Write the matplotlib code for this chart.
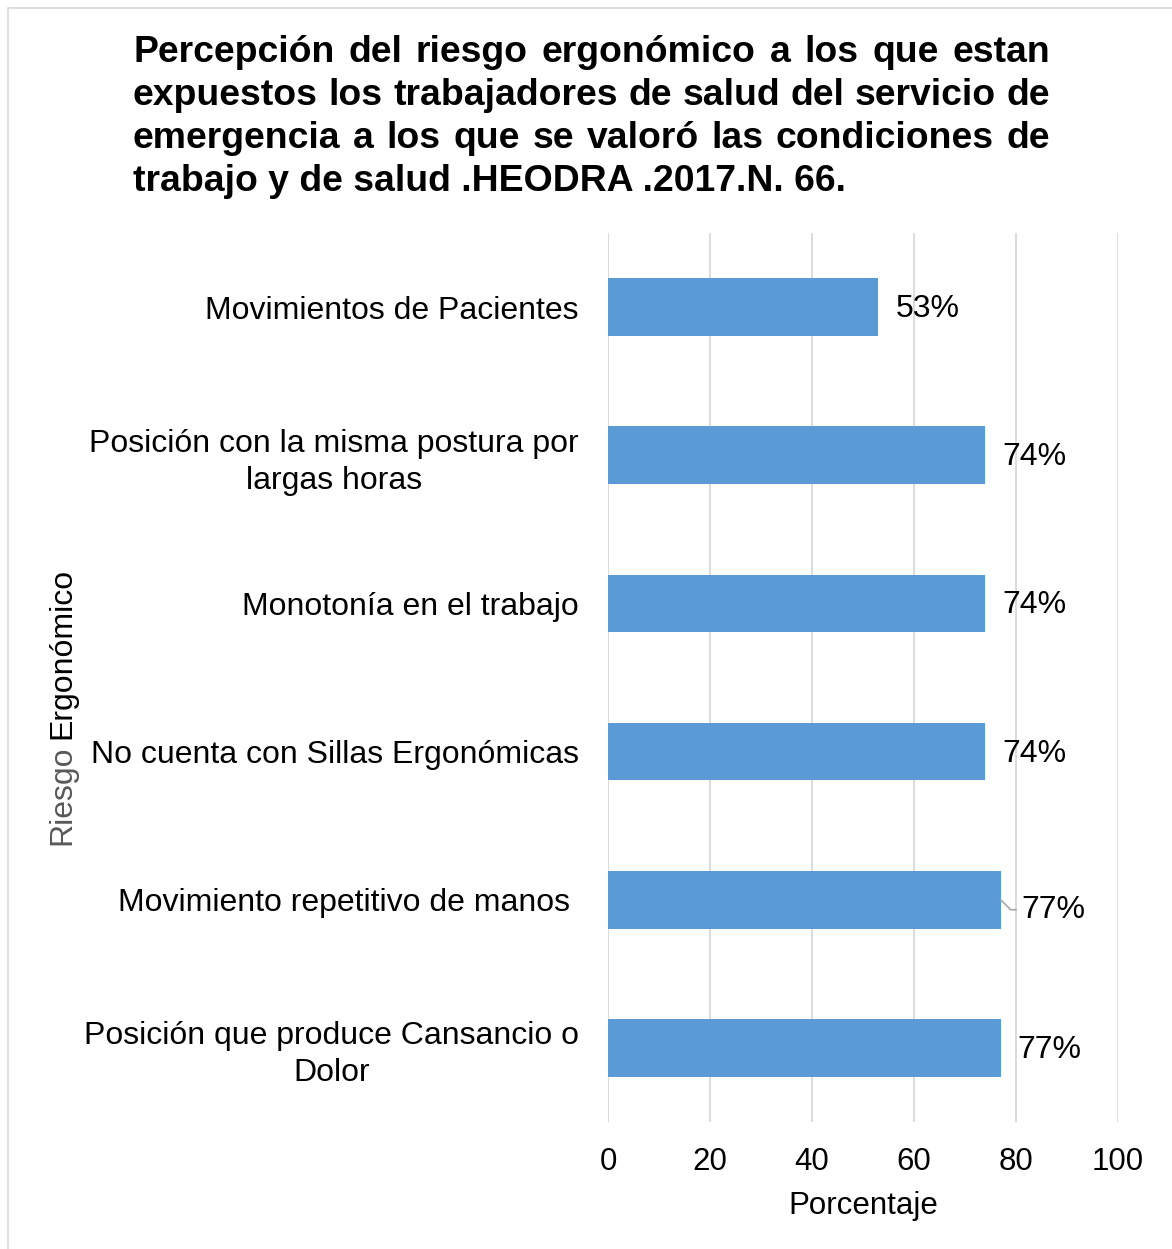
import numpy as np
import matplotlib.pyplot as plt
from matplotlib.patches import Rectangle

# Data (top to bottom as drawn)
categorias = ['Movimientos de Pacientes',
              'Posición con la misma postura por\nlargas horas',
              'Monotonía en el trabajo',
              'No cuenta con Sillas Ergonómicas',
              'Movimiento repetitivo de manos ',
              'Posición que produce Cansancio o\nDolor']
porcentajes = [53, 74, 74, 74, 77, 77]
etiquetas = ['53%', '74%', '74%', '74%', '77%', '77%']
xticks = [0, 20, 40, 60, 80, 100]

titulo = ['Percepción del riesgo ergonómico a los que estan',
          'expuestos los trabajadores de salud del servicio de',
          'emergencia a los que  se valoró las condiciones de',
          'trabajo y de salud .HEODRA .2017.N. 66.']

plt.rcParams['font.family'] = ['Liberation Sans', 'DejaVu Sans']

W, H = 1172, 1249
fs = 23
fig = plt.figure(figsize=(W / 100, H / 100), dpi=100)

# outer chart border
fig.patches.append(Rectangle((8 / W, -0.1), 1.2, 1 - 8 / H + 0.1,
                             transform=fig.transFigure, fill=False,
                             edgecolor='#d9d9d9', linewidth=1.2))

ax = fig.add_axes([608 / W, 1 - 1122 / H, 510 / W, 889 / H])
y = np.arange(len(categorias))
ax.barh(y, porcentajes, height=0.39, color='#5B9BD5', zorder=3)
ax.set_xlim(0, 100)
ax.set_ylim(len(categorias) - 0.5, -0.5)
ax.set_xticks(xticks)
ax.set_xticklabels([str(t) for t in xticks], fontsize=22.5)
ax.set_yticks(y)
ax.set_yticklabels(categorias, fontsize=fs, multialignment='center',
                   linespacing=1.3)
ax.tick_params(axis='both', length=0)
ax.tick_params(axis='y', pad=21)
ax.tick_params(axis='x', pad=18)
ax.grid(axis='x', color='#d9d9d9', linewidth=1.3, zorder=0)
for s in ax.spines.values():
    s.set_visible(False)
ax.set_xlabel('Porcentaje', fontsize=22.5, labelpad=10)

# data labels
for i, (v, t) in enumerate(zip(porcentajes, etiquetas)):
    if i == 4:
        ax.annotate(t, xy=(v, i), xytext=(21, -10), textcoords='offset pixels',
                    va='center', ha='left', fontsize=fs,
                    arrowprops=dict(arrowstyle='-', color='#a6a6a6', lw=1.2,
                                    shrinkA=2, shrinkB=0,
                                    connectionstyle='angle,angleA=0,angleB=-45,rad=0'))
    else:
        ax.annotate(t, xy=(v, i), xytext=(17, -2), textcoords='offset pixels',
                    va='center', ha='left', fontsize=fs)

# y axis label in two tones
fig.text(62 / W, 1 - 795 / H, 'Riesgo', rotation=90, color='#595959',
         fontsize=fs, ha='center', va='center')
fig.text(62 / W, 1 - 653 / H, 'Ergonómico', rotation=90, color='#000000',
         fontsize=fs, ha='center', va='center')

# justified bold title
renderer = fig.canvas.get_renderer()
x0, x1 = 133, 1050
bases = [62, 105, 148, 191]
for k, linea in enumerate(titulo):
    yb = 1 - bases[k] / H
    if k == len(titulo) - 1:
        fig.text(x0 / W, yb, linea, fontsize=26.9, fontweight='bold',
                 ha='left', va='baseline')
        continue
    palabras = linea.split()
    objs = [fig.text(0, yb, p, fontsize=26.9, fontweight='bold',
                     ha='left', va='baseline') for p in palabras]
    anchos = [o.get_window_extent(renderer).width for o in objs]
    gap = (x1 - x0 - sum(anchos)) / (len(palabras) - 1)
    xp = x0
    for o, a in zip(objs, anchos):
        o.set_x(xp / W)
        xp += a + gap

fig.savefig('out.png', dpi=100)
